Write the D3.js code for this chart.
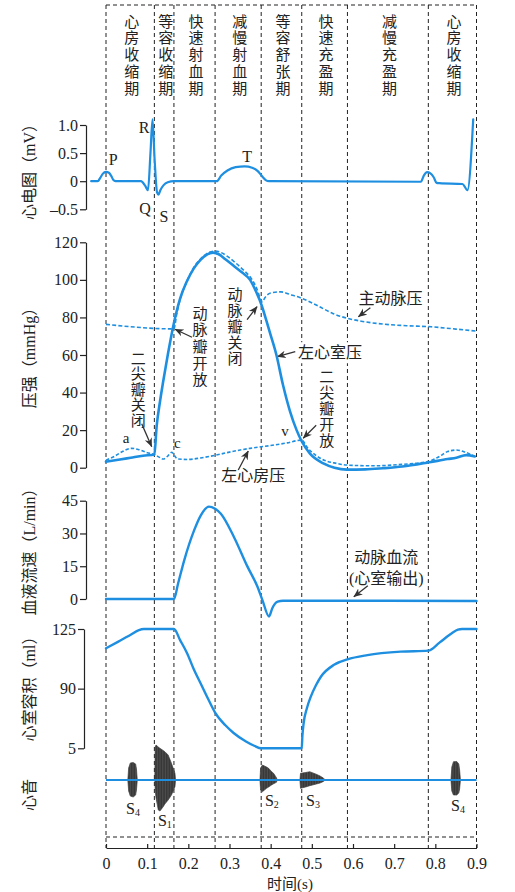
<!DOCTYPE html>
<html><head><meta charset="utf-8">
<script src="https://cdn.jsdelivr.net/npm/d3@7"></script>
<style>body{margin:0;background:#fff} svg{display:block} .vt{writing-mode:vertical-rl;text-orientation:upright}</style>
</head><body><svg id="c" width="515" height="892"></svg>
<script>
// ---------------- DATA ----------------
const periodNames = ["心房收缩期","等容收缩期","快速射血期","减慢射血期","等容舒张期","快速充盈期","减慢充盈期","心房收缩期"];
const periodBounds = [0,0.1175,0.165,0.265,0.377,0.4755,0.5865,0.783,0.9];
const timeTicks = [0,0.1,0.2,0.3,0.4,0.5,0.6,0.7,0.8,0.9];
const timeTickLabels = ["0","0.1","0.2","0.3","0.4","0.5","0.6","0.7","0.8","0.9"];

const ecgTicks = [1.0,0.5,0,-0.5];
const ecgTickLabels = ["1.0","0.5","0","–0.5"];
const ecg = [[-0.036,0],[-0.02,0],[-0.014,0.06],[-0.008,0.13],[0.0,0.165],[0.007,0.15],[0.013,0.09],[0.018,0.02],[0.023,0],[0.085,0],[0.095,-0.08],[0.102,-0.16],[0.108,0.5],[0.113,1.1],[0.118,0.4],[0.124,-0.2],[0.1275,-0.24],[0.132,-0.16],[0.14,-0.07],[0.15,-0.02],[0.165,0],[0.269,0],[0.28,0.1],[0.295,0.19],[0.315,0.25],[0.337,0.265],[0.355,0.24],[0.37,0.17],[0.38,0.08],[0.388,0.02],[0.396,0],[0.765,-0.01],[0.772,0.1],[0.78,0.16],[0.788,0.14],[0.796,0.07],[0.803,-0.03],[0.81,-0.035],[0.866,-0.05],[0.878,-0.16],[0.892,1.1]];
const ecgLabels = [["P",0.0177,0.385],["R",0.0923,0.948],["Q",0.0947,-0.49],["S",0.141,-0.62],["T",0.343,0.444]];

const pressureTicks = [0,20,40,60,80,100,120];
const lvPressure = [[0,3.2],[0.03,4.2],[0.06,5.3],[0.09,6.4],[0.1175,7],[0.123,22],[0.131,35],[0.139,46],[0.15,60],[0.164,76],[0.18,90],[0.196,99],[0.213,106],[0.229,110.5],[0.245,113.5],[0.26,114.5],[0.275,113.5],[0.29,111],[0.31,107.5],[0.33,104],[0.35,100],[0.365,93.5],[0.378,86.5],[0.39,78],[0.398,72],[0.414,60],[0.43,44],[0.447,30],[0.463,20],[0.475,14.2],[0.495,7.6],[0.528,2.3],[0.555,0],[0.585,-1.0],[0.63,-0.9],[0.673,-0.3],[0.72,0.6],[0.786,2.9],[0.83,4.6],[0.851,5.3],[0.875,6.7],[0.896,6]];
const aorticPressure = [[0,76.3],[0.165,73.9],[0.172,82],[0.18,89.5],[0.196,99],[0.213,106.5],[0.229,111],[0.245,114],[0.265,115.3],[0.28,114.5],[0.295,112.5],[0.315,109],[0.335,105],[0.352,101],[0.366,95.5],[0.376,89.5],[0.38,88.3],[0.386,90.5],[0.4,93],[0.425,93.6],[0.45,92],[0.472,90.5],[0.512,86.5],[0.552,82],[0.585,79.6],[0.62,78],[0.675,76.4],[0.73,75.6],[0.79,75],[0.85,73.8],[0.9,72.7]];
const atrialPressure = [[0,4],[0.02,6],[0.04,8.6],[0.062,10.3],[0.08,9.6],[0.1,8],[0.1175,7],[0.13,5.5],[0.139,4.6],[0.15,6.2],[0.16,8.2],[0.167,6.2],[0.175,4.6],[0.2,4.4],[0.23,5.2],[0.265,6.6],[0.3,8.3],[0.35,10.3],[0.4,11.8],[0.44,13.2],[0.475,14.7],[0.49,10.5],[0.51,6.5],[0.53,4],[0.56,2.3],[0.585,1.4],[0.65,1],[0.72,1.8],[0.783,3.3],[0.81,6],[0.83,8.6],[0.851,9.4],[0.872,8.3],[0.896,6]];
// vertical labels: text, t, value at first char centre, pitch(px)
const pressureVLabels = [["二尖瓣关闭",0.0785,58.5,15.6],["动脉瓣开放",0.2283,82.4,16.7],["动脉瓣关闭",0.3133,92.1,16],["二尖瓣开放",0.536,48.7,16]];
const pressureHLabels = [["主动脉压",0.691,90.2],["左心室压",0.544,61.2],["左心房压",0.358,-4.4]];
const pressureLetters = [["a",0.0486,15.7],["c",0.173,13],["v",0.435,19.5]];
// arrows: head t, head value, tail offset dx, dy (px)
const pressureArrows = [[0.111,11.2,-10,-23],[0.1676,73.7,17,8],[0.367,85.8,-10,13],[0.613,80.4,12,-9],[0.416,59.1,18,-5],[0.479,15.7,13,-13],[0.3456,8.9,-10,19]];

const flowTicks = [0,15,30,45];
const aorticFlow = [[0,0],[0.165,0],[0.175,7],[0.19,17.7],[0.214,31.4],[0.23,38.2],[0.25,42.3],[0.265,41.3],[0.279,39],[0.311,28.3],[0.344,14.7],[0.368,5.6],[0.38,-0.5],[0.396,-8],[0.404,-4.2],[0.417,-1.2],[0.43,-0.8],[0.9,-0.9]];
const flowLabels = [["动脉血流",0.681,18.8],["(心室输出)",0.681,9.6]];
const flowArrows = [[0.602,1.05,14,-11]];

const volumeTicks = [55,90,125];
const volumeTickLabels = ["5","90","125"];
const lvVolume = [[0,113.7],[0.03,117.6],[0.06,121.6],[0.08,124.4],[0.092,125],[0.165,125],[0.18,118.5],[0.197,110.8],[0.213,101.5],[0.23,93],[0.25,83],[0.265,76],[0.29,68.5],[0.31,64],[0.34,59],[0.36,56.5],[0.377,55],[0.4755,55],[0.477,62],[0.48,69.5],[0.488,78.5],[0.497,85],[0.51,92],[0.522,97],[0.554,104],[0.5865,107.2],[0.635,109.7],[0.716,111.7],[0.783,112.3],[0.81,117],[0.84,122.5],[0.855,124.6],[0.865,125],[0.9,125]];

// heart sounds: [t, upper amplitude, lower amplitude]
const soundS4a = [[0.053,0,0],[0.055,12,11],[0.059,17,16],[0.066,17.5,17],[0.072,16,15],[0.074,11,10],[0.076,0,0]];
const soundS1 = [[0.1185,0,0],[0.1195,33,10],[0.1215,35,18],[0.127,33,30],[0.131,31.7,31],[0.139,29.5,26.7],[0.143,28.3,24],[0.151,25,20],[0.159,16.7,15],[0.1675,6.7,6.7],[0.169,0,0]];
const soundS2 = [[0.374,0,0],[0.3755,12,10],[0.38,15,11.7],[0.39,13,8.3],[0.395,11.7,7],[0.402,8.5,5],[0.407,6.7,3.8],[0.414,2.3,2.3],[0.416,0,0]];
const soundS3 = [[0.471,0,0],[0.4725,6.7,8.3],[0.485,7.5,7],[0.495,8.3,5.7],[0.511,5.7,4],[0.52,4,3],[0.527,2.2,1.7],[0.533,0,0]];
const soundS4b = [[0.838,0,0],[0.84,13,11],[0.844,18.3,15],[0.852,18.5,15],[0.857,16,13],[0.859,10,9],[0.861,0,0]];
const soundLabels = [["S","4",0.0656,-28],["S","1",0.143,-40],["S","2",0.403,-20],["S","3",0.503,-20],["S","4",0.855,-25]];

const axisTitles = [["心电图（mV）",168],["压强（mmHg）",354],["血液流速（L/min）",548],["心室容积（ml）",685],["心音",795]];

// ---------------- DRAW ----------------
const BLUE = "#1e8fe0", INK = "#222";
const FONT = "'Liberation Serif','Noto Sans CJK SC',serif";
const CJK = "'Noto Sans CJK SC','Liberation Serif',sans-serif";
const svg = d3.select("#c").attr("font-family", FONT);

const x = d3.scaleLinear().domain([0,0.9]).range([106,476.5]);
const yE = d3.scaleLinear().domain([-0.5,1.0]).range([209.3,125]);
const yP = d3.scaleLinear().domain([0,120]).range([467.7,242.3]);
const yF = d3.scaleLinear().domain([0,45]).range([599,500.7]);
const yV = d3.scaleLinear().domain([55,125]).range([748.3,629]);
const yS = d3.scaleLinear().domain([-40,40]).range([820,740]);

const defs = svg.append("defs");
defs.append("marker").attr("id","ah").attr("viewBox","0 0 10 10").attr("refX",9.5).attr("refY",5)
  .attr("markerWidth",9).attr("markerHeight",9).attr("markerUnits","userSpaceOnUse").attr("orient","auto")
  .append("path").attr("d","M0,0.8 L10,5 L0,9.2 L3,5 Z").attr("fill","#333");

const TOP = 5, BOTTOM_DASH = 837, AXIS_Y = 848;
svg.append("g").selectAll("line").data(periodBounds).join("line")
  .attr("x1",d=>x(d)).attr("x2",d=>x(d)).attr("y1",TOP).attr("y2",AXIS_Y)
  .attr("stroke",INK).attr("stroke-width",1).attr("stroke-dasharray","4,3");
[TOP,BOTTOM_DASH].forEach(yy=>svg.append("line").attr("x1",x(0)).attr("x2",x(0.9)).attr("y1",yy).attr("y2",yy)
  .attr("stroke",INK).attr("stroke-width",1).attr("stroke-dasharray","4,3"));

// vertical text: one upright character per text element, laid out top to bottom
function vText(txt, cx, firstCentre, pitch, size){
  [...txt].forEach((ch,j)=>{
    svg.append("text").attr("class","vt").attr("x",cx).attr("y",firstCentre + j*pitch - size/2)
      .attr("font-family",CJK).attr("font-size",size).attr("fill","#222").text(ch);
  });
}
periodNames.forEach((name,i)=>{
  vText(name, x((periodBounds[i]+periodBounds[i+1])/2)+1.5, 21, 16.8, 15);
});

// axes
function yAxis(scale, xpos, ticks, labels){
  const ax = d3.axisLeft(scale).tickValues(ticks).tickSize(6).tickSizeOuter(0).tickPadding(2)
    .tickFormat((d,i)=>labels ? labels[i] : d);
  const g = svg.append("g").attr("transform",`translate(${xpos},0)`).call(ax);
  g.select(".domain").attr("stroke",INK).attr("stroke-width",1.2);
  g.selectAll(".tick line").attr("stroke",INK).attr("stroke-width",1.2);
  g.selectAll(".tick text").attr("font-family",FONT).attr("font-size",16).attr("fill","#222");
  return g;
}
yAxis(yE,86,ecgTicks,ecgTickLabels);
yAxis(yP,86,pressureTicks,null);
yAxis(yF,86,flowTicks,null);
yAxis(yV,84,volumeTicks,volumeTickLabels);

const xa = d3.axisBottom(x).tickValues(timeTicks).tickSize(-4).tickSizeOuter(0).tickPadding(10)
  .tickFormat((d,i)=>timeTickLabels[i]);
const xg = svg.append("g").attr("transform",`translate(0,${AXIS_Y})`).call(xa);
xg.select(".domain").attr("stroke",INK).attr("stroke-width",1.2);
xg.selectAll(".tick line").attr("stroke",INK).attr("stroke-width",1.2);
xg.selectAll(".tick text").attr("font-family",FONT).attr("font-size",16).attr("fill","#222");
svg.append("text").attr("x",290).attr("y",889).attr("text-anchor","middle").attr("font-size",15).attr("fill","#222").text("时间(s)");

axisTitles.forEach(([t,cy])=>{
  svg.append("text").attr("transform",`translate(29,${cy}) rotate(-90)`).attr("text-anchor","middle")
    .attr("dominant-baseline","central").attr("font-size",16).attr("fill","#222").text(t);
});

function hLabel(txt, cx, cy, size, bg){
  const g = svg.append("g");
  const t = g.append("text").attr("x",cx).attr("y",cy).attr("text-anchor","middle").attr("dominant-baseline","central")
    .attr("font-size",size).attr("fill","#222").text(txt);
  if(bg){ const b = t.node().getBBox();
    g.insert("rect","text").attr("x",b.x-1).attr("y",b.y-2).attr("width",b.width+2).attr("height",b.height+4).attr("fill","#fff"); }
}
function arrow(hx,hy,dx,dy){
  svg.append("line").attr("x1",hx+dx).attr("y1",hy+dy).attr("x2",hx).attr("y2",hy)
    .attr("stroke","#333").attr("stroke-width",1.3).attr("marker-end","url(#ah)");
}

pressureHLabels.forEach(([t,tt,v])=>hLabel(t,x(tt),yP(v),16,true));
flowLabels.forEach(([t,tt,v])=>hLabel(t,x(tt),yF(v),16,false));
pressureVLabels.forEach(([t,tt,v,p])=>vText(t,x(tt),yP(v),p,15));
pressureLetters.forEach(([t,tt,v])=>hLabel(t,x(tt),yP(v),15,false));
ecgLabels.forEach(([t,tt,v])=>hLabel(t,x(tt),yE(v),16,false));
pressureArrows.forEach(([tt,v,dx,dy])=>arrow(x(tt),yP(v),dx,dy));
flowArrows.forEach(([tt,v,dx,dy])=>arrow(x(tt),yF(v),dx,dy));

const curve = d3.curveMonotoneX;
function path(data, ys, w, dash){
  svg.append("path").datum(data).attr("d",d3.line().x(d=>x(d[0])).y(d=>ys(d[1])).curve(curve))
    .attr("fill","none").attr("stroke",BLUE).attr("stroke-width",w)
    .attr("stroke-dasharray",dash||null).attr("stroke-linejoin","round").attr("stroke-linecap", dash?"butt":"round");
}
path(ecg,yE,2.2);
path(aorticPressure,yP,1.6,"4,2.2");
path(atrialPressure,yP,1.6,"3.5,2");
path(lvPressure,yP,2.6);
path(aorticFlow,yF,2.4);
path(lvVolume,yV,2.4);

// heart sounds: filled envelope plus light striations for the burst texture
const sArea = d3.area().x(d=>x(d[0])).y0(d=>yS(-d[2])).y1(d=>yS(d[1])).curve(d3.curveLinear);
const sounds = [soundS4a,soundS1,soundS2,soundS3,soundS4b];
sounds.forEach((s,i)=>{
  defs.append("clipPath").attr("id","sc"+i).append("path").datum(s).attr("d",sArea);
  svg.append("path").datum(s).attr("d",sArea).attr("fill","#2b2b2b").attr("stroke","#2b2b2b").attr("stroke-width",0.6);
  const x0 = x(s[0][0]), x1 = x(s[s.length-1][0]);
  svg.append("g").attr("clip-path",`url(#sc${i})`).selectAll("line").data(d3.range(x0+1.2, x1, 1.6)).join("line")
    .attr("x1",d=>d).attr("x2",d=>d).attr("y1",yS(40)).attr("y2",yS(-40))
    .attr("stroke","#fff").attr("stroke-opacity",0.35).attr("stroke-width",0.5);
});
svg.append("line").attr("x1",x(0)).attr("x2",x(0.9)).attr("y1",yS(0)).attr("y2",yS(0))
  .attr("stroke",BLUE).attr("stroke-width",2.2);
soundLabels.forEach(([s,sub,tt,v])=>{
  const t = svg.append("text").attr("x",x(tt)).attr("y",yS(v)).attr("text-anchor","middle")
    .attr("dominant-baseline","central").attr("font-size",16).attr("fill","#222");
  t.append("tspan").text(s);
  t.append("tspan").attr("font-size",10).attr("dy",4).text(sub);
});
</script></body></html>
